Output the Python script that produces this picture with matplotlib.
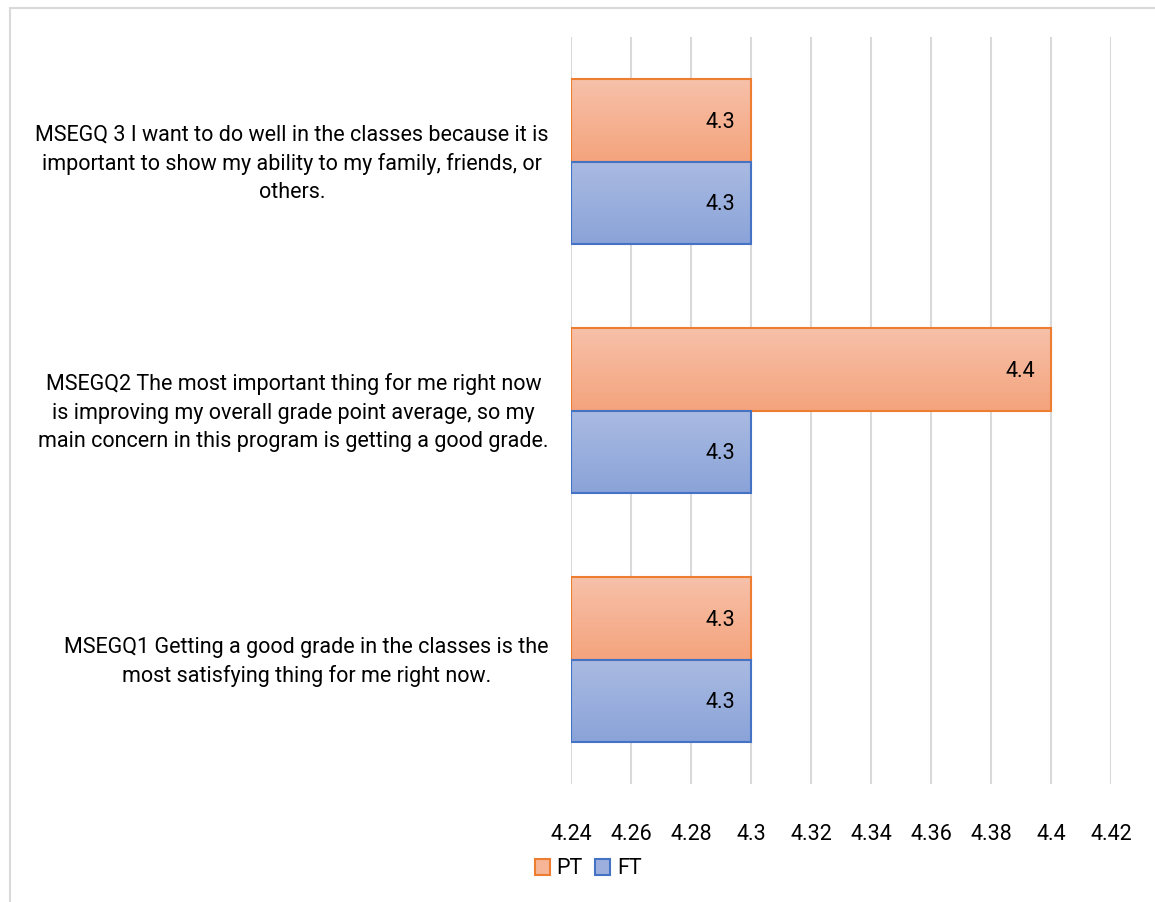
import matplotlib
matplotlib.use("Agg")
import matplotlib.pyplot as plt
import matplotlib.patches as mpatches
import matplotlib.transforms as mtrans
from matplotlib.colors import LinearSegmentedColormap
import numpy as np

plt.rcParams['font.family'] = ['Roboto', 'DejaVu Sans']

categories = [
    "MSEGQ1 Getting a good grade in the classes is the\nmost satisfying thing for me right now.",
    "MSEGQ2 The most important thing for me right now\nis improving my overall grade point average, so my\nmain concern in this program is getting a good grade.",
    "MSEGQ 3 I want to do well in the classes because it is\nimportant to show my ability to my family, friends, or\nothers.",
]
pt_values = [4.3, 4.4, 4.3]
ft_values = [4.3, 4.3, 4.3]
xticks = [4.24, 4.26, 4.28, 4.3, 4.32, 4.34, 4.36, 4.38, 4.4, 4.42]

lbl_fnt = 15.5
pt_edge, ft_edge = '#ED7D31', '#4472C4'
pt_cmap = LinearSegmentedColormap.from_list('pt', ['#F4A47D', '#F7C1AA'])
ft_cmap = LinearSegmentedColormap.from_list('ft', ['#8AA3D8', '#AABBE2'])

fig = plt.figure(figsize=(11.55, 9.02), dpi=100)
ax = fig.add_axes([571/1155, 1-784/902, 540/1155, 747/902])

# chart border like the office export
fig.patches.append(mpatches.Rectangle((10/1155, -0.1), 1.2, 1-8/902+0.1, transform=fig.transFigure,
                                      fill=False, edgecolor='#D9D9D9', linewidth=1.5))

y = np.arange(len(categories))
h = 0.331
base = xticks[0]
pt_bars = ax.barh(y + h/2, np.array(pt_values) - base, left=base, height=h,
                  facecolor='none', edgecolor=pt_edge, linewidth=1.5, zorder=3)
ft_bars = ax.barh(y - h/2, np.array(ft_values) - base, left=base, height=h,
                  facecolor='none', edgecolor=ft_edge, linewidth=1.5, zorder=3)

grad = np.linspace(0, 1, 100).reshape(-1, 1)
for bars, cmap, vals in [(pt_bars, pt_cmap, pt_values), (ft_bars, ft_cmap, ft_values)]:
    for b, v in zip(bars, vals):
        x0, y0 = b.get_x(), b.get_y()
        ax.imshow(grad, cmap=cmap, aspect='auto', origin='lower',
                  extent=(x0, x0 + b.get_width(), y0, y0 + b.get_height()), zorder=2)
        ax.annotate(f"{v:g}", (x0 + b.get_width(), y0 + b.get_height()/2),
                    xytext=(-16, -2), textcoords='offset pixels', ha='right', va='center',
                    fontsize=lbl_fnt, color='black', zorder=4)

ax.set_xlim(xticks[0], xticks[-1])
ax.set_ylim(-0.5, len(categories) - 0.5)
ax.set_xticks(xticks)
ax.set_xticklabels([f"{t:g}" for t in xticks], fontsize=lbl_fnt)
ax.set_yticks(y)
ax.set_yticklabels(categories, fontsize=lbl_fnt, multialignment='center', linespacing=1.45)
ax.tick_params(axis='both', length=0)
ax.tick_params(axis='x', pad=28.5)
ax.tick_params(axis='y', pad=16)
# nudge category labels up a little
shift = mtrans.ScaledTranslation(0, 0.04, fig.dpi_scale_trans)
for lab in ax.get_yticklabels():
    lab.set_transform(lab.get_transform() + shift)
for s in ax.spines.values():
    s.set_visible(False)
ax.grid(axis='x', color='#D9D9D9', linewidth=1.5, zorder=0)
ax.set_axisbelow(True)

handles = [mpatches.Patch(facecolor='#F6B596', edgecolor=pt_edge, linewidth=1.5, label='PT'),
           mpatches.Patch(facecolor='#9DB0DD', edgecolor=ft_edge, linewidth=1.5, label='FT')]
fig.legend(handles=handles, loc='center', bbox_to_anchor=(588/1155, 1-869/902), ncol=2,
           frameon=False, fontsize=lbl_fnt, handlelength=0.7, handleheight=0.7,
           handletextpad=0.3, columnspacing=0.6)

fig.savefig('out.png', dpi=100)
